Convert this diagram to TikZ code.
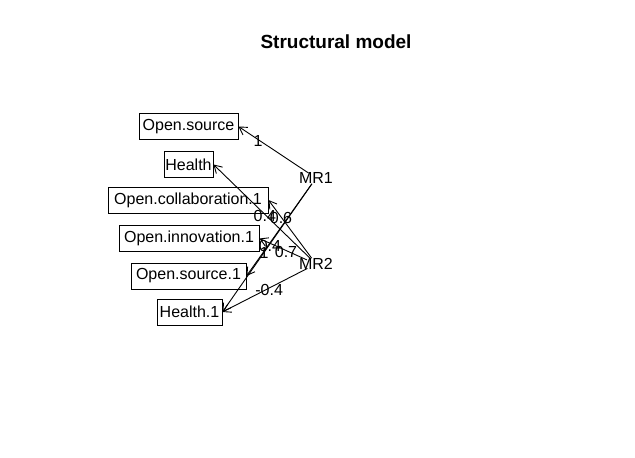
\documentclass[tikz,border=0pt]{standalone}
\usepackage{fontspec}
\setmainfont{Liberation Sans}
\usetikzlibrary{arrows.meta,shapes.geometric}
\begin{document}
\begin{tikzpicture}[x=1pt,y=-1pt,
  obs/.style={draw, line width=0.9pt, minimum height=26pt, inner sep=0pt, font=\fontsize{16}{18}\selectfont},
  lat/.style={ellipse, minimum width=24pt, minimum height=12pt, inner sep=0pt},
  lattext/.style={inner sep=0pt, font=\fontsize{16}{18}\selectfont},
  ld/.style={line width=0.9pt, -{Straight Barb[length=7.5pt,width=9pt]}},
  lab/.style={inner sep=0pt, yshift=-1.5pt, font=\fontsize{16}{18}\selectfont}]
\useasboundingbox (0,0) rectangle (635,458);
\fill[white] (0,0) rectangle (635,458);
\node[font=\bfseries\fontsize{19}{22}\selectfont, inner sep=0pt] (title) at (336,41.5) {Structural model};
% observed variables
\node[obs, minimum width=99pt] (os) at (188.5,126.5) {Open.source};
\node[obs, minimum width=49pt] (he) at (188.5,164.5) {Health};
\node[obs, minimum width=160pt] (oc) at (188,200) {Open.collaboration.1};
\node[obs, minimum width=140pt] (oi) at (189,238.5) {Open.innovation.1};
\node[obs, minimum width=115pt] (os1) at (188.5,276) {Open.source.1};
\node[obs, minimum width=65pt] (he1) at (189.5,312) {Health.1};
% latent variables
\node[lat] (m1) at (316,178) {};
\node[lattext] (m1t) at (m1) {MR1};
\node[lat] (m2) at (316,264) {};
\node[lattext] (m2t) at (m2) {MR2};
% paths
\draw[ld] (m1) -- (os.east) node[lab, pos=0.72] (l1) {1};
\draw[ld] (m1) -- (os1.east) node[lab, pos=0.73] (l2) {1};
\draw[ld] (m1) -- (he1.east) node[lab, pos=0.47] (l3) {0.4};
\draw[ld] (m2) -- (he.east) node[lab, pos=0.47] (l4) {0.4};
\draw[ld] (m2) -- (oc.east) node[lab, pos=0.71] (l5) {0.6};
\draw[ld] (m2) -- (oi.east) node[lab, pos=0.44] (l6) {0.7};
\draw[ld] (m2) -- (he1.east) node[lab, pos=0.45] (l7) {-0.4};
\end{tikzpicture}
\end{document}
